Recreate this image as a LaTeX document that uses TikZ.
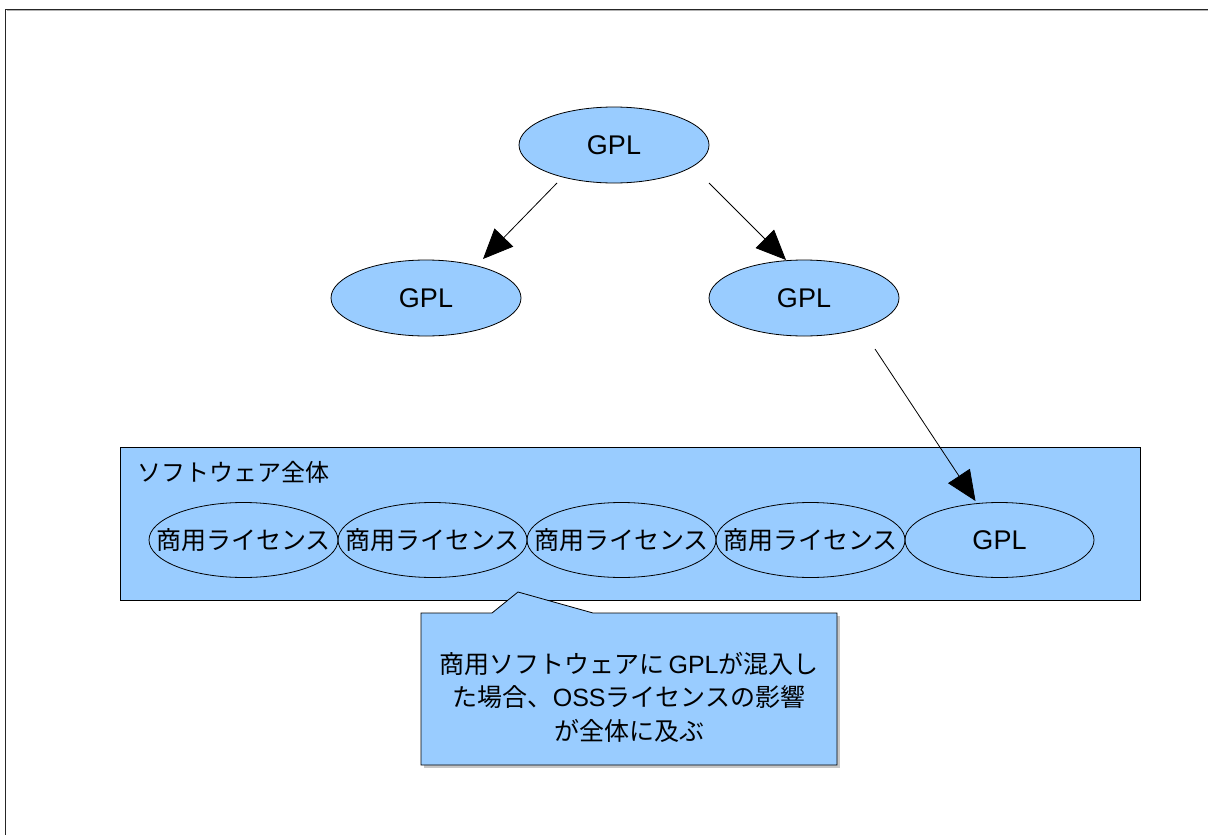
\documentclass[tikz,border=0pt]{standalone}
\usepackage{fontspec}
\setmainfont{Liberation Sans}
\newfontfamily\jpfont{Noto Sans CJK JP}
\usetikzlibrary{shapes.geometric,arrows.meta,calc}
\definecolor{lblue}{HTML}{99CCFF}
\begin{document}
\begin{tikzpicture}[x=1pt,y=-1pt,
  ell/.style={ellipse,draw=black,line width=0.8pt,fill=lblue,minimum width=190pt,minimum height=76pt,inner sep=0pt,font=\fontsize{27}{30}\selectfont},
  rowell/.style={ellipse,draw=black,line width=0.8pt,minimum width=189pt,minimum height=75pt,inner sep=0pt,font=\jpfont\fontsize{25}{30}\selectfont},
  arr/.style={-{Triangle[length=30pt,width=26pt]},line width=0.8pt,black},
  frameline/.style={line width=1.2pt,black!85}]
\useasboundingbox (0,0) rectangle (1208,835);
\fill[white] (0,0) rectangle (1208,835);
% frame
\draw[frameline] (5.5,835) -- (5.5,9.5) -- (1208,9.5);
\draw[black!30,line width=0.8pt] (6.5,10.8) -- (1208,10.8);
% top ellipses
\node[ell] (gtop) at (614,145) {GPL};
\node[ell] (gleft) at (426,298) {GPL};
\node[ell] (gright) at (804,298) {GPL};
% software box
\node[draw=black,line width=0.8pt,fill=lblue,minimum width=1020pt,minimum height=153pt,inner sep=0pt] (sw) at (630,523.5) {};
\node[anchor=west,font=\jpfont\fontsize{24}{28}\selectfont,inner sep=0pt] (swlabel) at (137,472) {ソフトウェア全体};
\node[rowell] (c1) at (243.5,540) {\makebox[0pt]{商用ライセンス}};
\node[rowell] (c2) at (432.5,540) {\makebox[0pt]{商用ライセンス}};
\node[rowell] (c3) at (621.5,540) {\makebox[0pt]{商用ライセンス}};
\node[rowell] (c4) at (810.5,540) {\makebox[0pt]{商用ライセンス}};
\node[rowell,font=\fontsize{27}{30}\selectfont] (g5) at (999.5,540) {\makebox[0pt]{GPL}};
% arrows
\draw[arr] ($(gtop.center)+(-57,38)$) -- ($(gleft.center)+(57,-39)$);
\draw[arr] ($(gtop.center)+(95,38)$) -- ($(gright.center)+(-18,-38)$);
\draw[arr] ($(gright.center)+(71,51)$) -- ($(g5.center)+(-24,-39)$);
% callout
\fill[black!22] (424,616) rectangle (839.5,767.5);
\draw[line width=0.8pt,fill=lblue] (421,613) -- (492,613) -- (518,592) -- (593,613) -- (837,613) -- (837,765) -- (421,765) -- cycle;
\node[align=center,font=\jpfont\fontsize{25}{33.5}\selectfont,inner sep=0pt] (note) at (629,697)
  {商用ソフトウェアに\,{\rmfamily GPL}が混入し\\た場合、{\rmfamily OSS}ライセンスの影響\\が全体に及ぶ};
\end{tikzpicture}
\end{document}
